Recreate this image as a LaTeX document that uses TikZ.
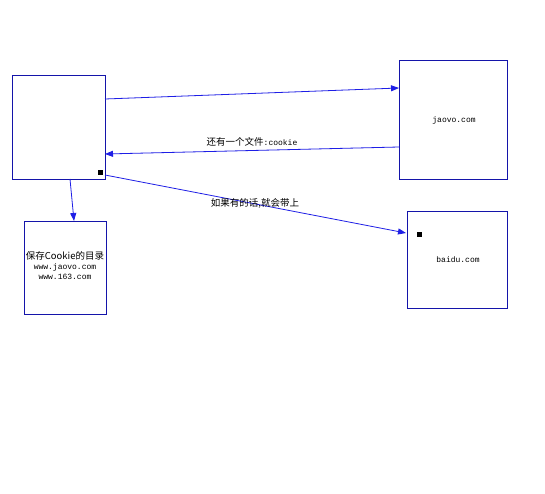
\documentclass[tikz,border=0pt]{standalone}
\usepackage{fontspec}
\newfontfamily\cjk{Noto Sans CJK SC}
\setmonofont{Liberation Mono}
\usetikzlibrary{arrows.meta}
\definecolor{boxblue}{RGB}{20,20,170}
\definecolor{arrblue}{RGB}{30,30,230}
\newcommand{\cj}[1]{{\fontsize{9.5}{10}\cjk #1}}
\begin{document}
\begin{tikzpicture}[x=1pt,y=-1pt,
  box/.style={draw=boxblue,line width=0.8pt,fill=white,inner sep=0pt},
  conn/.style={draw=arrblue,line width=0.8pt,-{Triangle[length=8pt,width=6pt]}},
  lbl/.style={font=\fontsize{8}{10}\selectfont\ttfamily,inner sep=0pt},
  sqmark/.style={fill=black,minimum size=5pt,inner sep=0pt}]
\useasboundingbox[fill=white] (0,0) rectangle (545,494);
\node[box,minimum width=93pt,minimum height=104pt] (A) at (58.5,127) {};
\node[box,minimum width=108pt,minimum height=119pt] (J) at (453,119.5) {};
\node[lbl] (jt) at (454,120) {jaovo.com};
\node[box,minimum width=82pt,minimum height=93pt] (C) at (65,267.5) {};
\node[lbl,align=center] (ct) at (65,266) {\cj{保存Cookie的目录}\\www.jaovo.com\\www.163.com};
\node[box,minimum width=100pt,minimum height=97pt] (B) at (457,259.5) {};
\node[lbl] (bt) at (458,260) {baidu.com};
\node[sqmark] (m1) at (100.5,172.5) {};
\node[sqmark] (m2) at (419,234.5) {};
\coordinate (a1) at (105,99);
\coordinate (j1) at (399,88);
\coordinate (j2) at (399,147);
\coordinate (a2) at (105,154);
\coordinate (a3) at (105,175);
\coordinate (b1) at (406,233);
\coordinate (a4) at (70,179);
\coordinate (c1) at (74,221);
\draw[conn] (a1) -- (j1);
\draw[conn] (j2) -- (a2);
\draw[conn] (a3) -- (b1);
\draw[conn] (a4) -- (c1);
\node[lbl] (l1) at (252,142) {\cj{还有一个文件}:cookie};
\node[lbl] (l2) at (255,203) {\cj{如果有的话,就会带上}};
\end{tikzpicture}
\end{document}
